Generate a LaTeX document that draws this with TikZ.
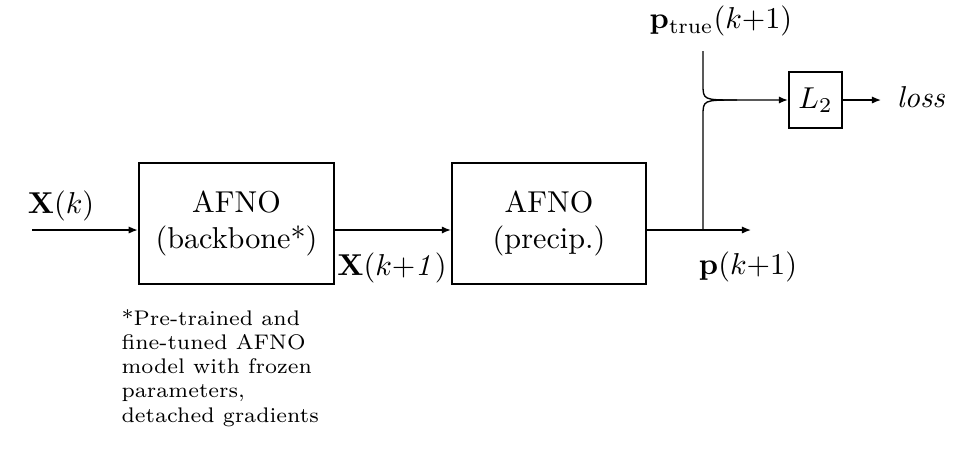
\documentclass[tikz,border=0pt]{standalone}
\usetikzlibrary{arrows.meta}
\begin{document}
\begin{tikzpicture}[x=0.3311pt,y=-0.3311pt,
  blk/.style={draw, line width=0.8pt, align=center, inner sep=0pt},
  conn/.style={line width=0.45pt, -{Latex[length=3pt,width=2.4pt]}},
  wire/.style={line width=0.45pt},
  lbl/.style={inner sep=0pt}]
\useasboundingbox (0,0) rectangle (958,466);
% blocks
\node[blk, minimum width=64.6pt, minimum height=40pt] (b1) at (236.5,223.5) {AFNO\\(backbone*)};
\node[blk, minimum width=64.2pt, minimum height=40pt] (b2) at (549,223.5) {AFNO\\(precip.)};
\node[blk, minimum width=17.5pt, minimum height=18.5pt] (l2) at (815.5,100) {$L_2$};
% coordinates
\coordinate (xin) at (32,230);
\coordinate (pout) at (751,230);
\coordinate (split) at (703,230);
\coordinate (ptop) at (703,51);
\coordinate (ta) at (703,84);
\coordinate (tb) at (703,116);
\coordinate (corner) at (703,100);
\coordinate (join) at (737,100);
\coordinate (lossend) at (881,100);
% labels
\node[lbl] (lxk) at (61,206) {$\mathbf{X}(k)$};
\node[lbl] (lxk1) at (392,268) {$\mathbf{X}(k{+}\mathit{1})$};
\node[lbl] (lpk1) at (748,267) {$\mathbf{p}(k{+}1)$};
\node[lbl] (lptrue) at (721,21) {$\mathbf{p}_{\mathrm{true}}(k{+}1)$};
\node[lbl] (lloss) at (921,97) {\textit{loss}};
\node[lbl, anchor=north west, align=left, font=\scriptsize] (note) at (121,309)
  {*Pre-trained and\\fine-tuned AFNO\\model with frozen\\parameters,\\detached gradients};
% connectors
\draw[conn] (xin) -- (xin -| b1.west);
\draw[conn] (b1.east |- xin) -- (b2.west |- xin);
\draw[conn] (b2.east |- xin) -- (pout);
\draw[conn] (ptop) -- (ta) .. controls (corner) .. (join) -- (l2.west);
\draw[wire] (split) -- (tb) .. controls (corner) .. (join);
\draw[conn] (l2.east) -- (lossend);
\end{tikzpicture}
\end{document}
